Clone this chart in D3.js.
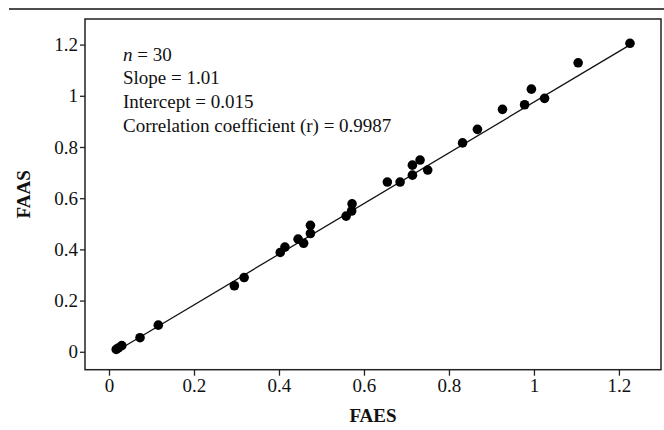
<!DOCTYPE html>
<html>
<head>
<meta charset="utf-8">
<script src="https://cdn.jsdelivr.net/npm/d3@7"></script>
<style>
  body { margin: 0; background: #fff; }
  svg text { font-family: "Liberation Serif", "DejaVu Serif", serif; fill: #111; }
  .tick-label { font-size: 19px; }
  .axis-title { font-size: 19px; font-weight: bold; }
  .note { font-size: 19px; }
</style>
</head>
<body>
<div id="chart"></div>
<script>
var faes = [0.017, 0.022, 0.030, 0.073, 0.116, 0.295, 0.318, 0.403, 0.414, 0.445,
            0.458, 0.474, 0.474, 0.558, 0.571, 0.572, 0.655, 0.685, 0.714, 0.714,
            0.732, 0.750, 0.832, 0.867, 0.926, 0.978, 0.994, 1.025, 1.104, 1.226];
var faas = [0.009, 0.015, 0.024, 0.055, 0.104, 0.258, 0.290, 0.388, 0.409, 0.440,
            0.424, 0.462, 0.494, 0.530, 0.550, 0.578, 0.663, 0.663, 0.690, 0.729,
            0.749, 0.710, 0.816, 0.869, 0.947, 0.965, 1.026, 0.990, 1.129, 1.205];

// Tick values
var xTicks = [0, 0.2, 0.4, 0.6, 0.8, 1, 1.2];
var yTicks = [0, 0.2, 0.4, 0.6, 0.8, 1, 1.2];

// Fit stats shown in the corner (FAES = intercept + slope * FAAS)
var slope = 1.01;
var intercept = 0.015;
var notes = ['Slope = 1.01', 'Intercept = 0.015', 'Correlation coefficient (r) = 0.9987'];

var width = 664, height = 430;
var margin = {left: 85, right: 3, top: 19, bottom: 60};

var svg = d3.select('#chart')
    .append('svg')
    .attr('width', width)
    .attr('height', height);

// Rule across the top of the figure
svg.append('line')
    .attr('x1', 9).attr('x2', width)
    .attr('y1', 9).attr('y2', 9)
    .attr('stroke', '#111')
    .attr('stroke-width', 1.5);

var xScale = d3.scaleLinear()
    .domain([-0.0565, 1.299])
    .range([margin.left, width - margin.right]);
var yScale = d3.scaleLinear()
    .domain([-0.070, 1.300])
    .range([height - margin.bottom - 0.3, margin.top]);

// Frame
svg.append('rect')
    .attr('x', xScale.range()[0])
    .attr('y', yScale.range()[1])
    .attr('width', xScale.range()[1] - xScale.range()[0])
    .attr('height', yScale.range()[0] - yScale.range()[1])
    .attr('fill', 'none')
    .attr('stroke', '#222')
    .attr('stroke-width', 1.5);

// Axes
var xAxis = d3.axisBottom(xScale).tickValues(xTicks).tickSize(6).tickFormat(d3.format('~g'));
var yAxis = d3.axisLeft(yScale).tickValues(yTicks).tickSize(5).tickFormat(d3.format('~g'));

var xAxisG = svg.append('g')
    .attr('transform', 'translate(0,' + yScale.range()[0] + ')')
    .call(xAxis);
var yAxisG = svg.append('g')
    .attr('transform', 'translate(' + xScale.range()[0] + ',0)')
    .call(yAxis);

[xAxisG, yAxisG].forEach(function(g) {
    g.select('.domain').remove();
    g.selectAll('.tick line').attr('stroke', '#222').attr('stroke-width', 1.3);
    g.selectAll('.tick text').attr('class', 'tick-label').attr('fill', '#111');
});
xAxisG.selectAll('.tick text').attr('y', 9).attr('dy', '0.71em');
yAxisG.selectAll('.tick text').attr('x', -7);

// Axis titles
svg.append('text')
    .attr('class', 'axis-title')
    .attr('x', (xScale.range()[0] + xScale.range()[1]) / 2)
    .attr('y', 422)
    .attr('text-anchor', 'middle')
    .text('FAES');
svg.append('text')
    .attr('class', 'axis-title')
    .attr('transform', 'translate(30,' + ((yScale.range()[0] + yScale.range()[1]) / 2) + ') rotate(-90)')
    .attr('text-anchor', 'middle')
    .text('FAAS');

// Fitted line over the data range
var xExt = d3.extent(faes);
svg.append('line')
    .attr('x1', xScale(xExt[0]))
    .attr('y1', yScale((xExt[0] - intercept) / slope))
    .attr('x2', xScale(xExt[1]))
    .attr('y2', yScale((xExt[1] - intercept) / slope))
    .attr('stroke', '#111')
    .attr('stroke-width', 1.3);

// Points
svg.append('g').selectAll('circle')
    .data(d3.range(faes.length))
    .enter().append('circle')
    .attr('cx', (i) => xScale(faes[i]))
    .attr('cy', (i) => yScale(faas[i]))
    .attr('r', 4.8)
    .attr('fill', '#000');

// Annotation block
var noteX = 123;
var first = svg.append('text')
    .attr('class', 'note')
    .attr('x', noteX)
    .attr('y', 60.5);
first.append('tspan').style('font-style', 'italic').text('n');
first.append('tspan').text(' = ' + faes.length);

svg.selectAll('.note-line')
    .data(notes)
    .enter().append('text')
    .attr('class', 'note note-line')
    .attr('x', noteX)
    .attr('y', (d, i) => 84 + i * 23.8)
    .text((d) => d);
</script>
</body>
</html>
